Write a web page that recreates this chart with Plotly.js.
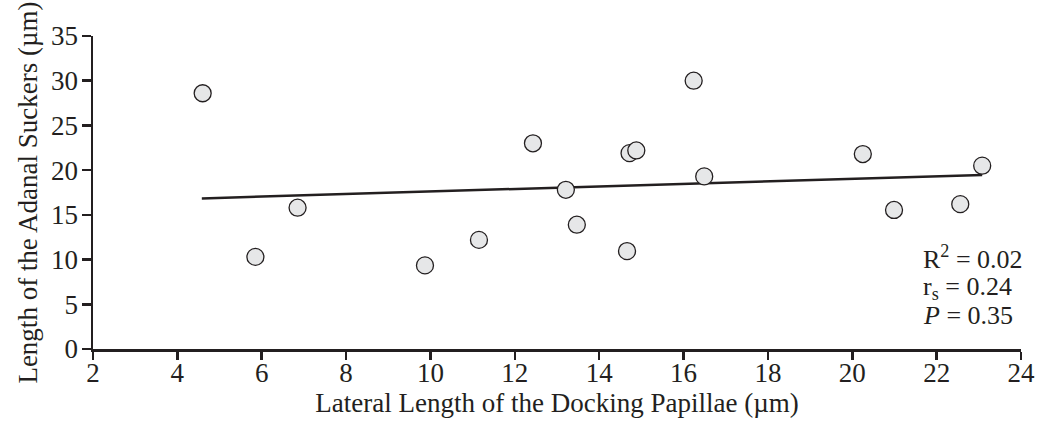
<!DOCTYPE html>
<html>
<head>
<meta charset="utf-8">
<script src="https://cdn.plot.ly/plotly-3.0.1.min.js"></script>
<style>html,body{margin:0;padding:0;background:#fff;}#chart{width:1040px;height:439px;}</style>
</head>
<body>
<div id="chart"></div>
<script>
// Lateral length of the docking papillae (µm)
const papillaeLength = [4.60, 5.85, 6.85, 9.87, 11.15, 12.43, 13.21, 13.47, 14.66, 14.72, 14.88, 16.24, 16.49, 20.25, 20.99, 22.56, 23.08];
// Length of the adanal suckers (µm)
const suckerLength = [28.6, 10.3, 15.8, 9.35, 12.2, 23.0, 17.8, 13.9, 10.95, 21.9, 22.2, 30.0, 19.3, 21.8, 15.55, 16.2, 20.5];
// Fitted trend line end points
const trendX = [4.58, 23.08];
const trendY = [16.84, 19.47];
const xTicks = [2, 4, 6, 8, 10, 12, 14, 16, 18, 20, 22, 24];
const yTicks = [0, 5, 10, 15, 20, 25, 30, 35];
const statsText = ['R<sup>2</sup> = 0.02', 'r<sub>s</sub> = 0.24', '<i>P</i> = 0.35'];

const ink = '#231f20';
const font = 'Liberation Serif, Times New Roman, serif';
const fs = 27;

const traces = [
  {x: trendX, y: trendY, type: 'scatter', mode: 'lines', line: {color: ink, width: 2.5}, hoverinfo: 'skip'},
  {x: papillaeLength, y: suckerLength, type: 'scatter', mode: 'markers',
   marker: {size: 17, color: '#e6e7e8', line: {color: ink, width: 1.3}}}
];

const statsY = [0.293, 0.195, 0.108];
const annotations = statsText.map((t, i) => ({
  text: t, xref: 'x', yref: 'paper', x: 21.62, y: statsY[i], xanchor: 'left', yanchor: 'middle',
  showarrow: false, font: {family: font, size: 26, color: ink}
}));

const axisCommon = {
  showgrid: false, zeroline: false, showline: true, linecolor: ink, linewidth: 2.5,
  ticks: 'outside', tickcolor: ink, tickwidth: 2.5,
  tickfont: {family: font, size: fs, color: ink}, fixedrange: true
};

const layout = {
  width: 1040, height: 439,
  margin: {l: 93, r: 19, t: 36, b: 90},
  paper_bgcolor: '#fff', plot_bgcolor: '#fff',
  showlegend: false,
  font: {family: font, color: ink},
  xaxis: Object.assign({}, axisCommon, {
    range: [2, 24], tickvals: xTicks, ticktext: xTicks.map(String), ticklen: 8, ticklabelstandoff: -10,
    title: {text: 'Lateral Length of the Docking Papillae (µm)', font: {family: font, size: fs, color: ink}, standoff: 0}
  }),
  yaxis: Object.assign({}, axisCommon, {
    range: [0, 35], tickvals: yTicks, ticktext: yTicks.map(String), ticklen: 9, ticklabelstandoff: -2,
    title: {text: 'Length of the Adanal Suckers (µm)', font: {family: font, size: fs, color: ink}, standoff: 6}
  }),
  annotations: annotations
};

Plotly.newPlot('chart', traces, layout, {displayModeBar: false, staticPlot: true});
</script>
</body>
</html>
